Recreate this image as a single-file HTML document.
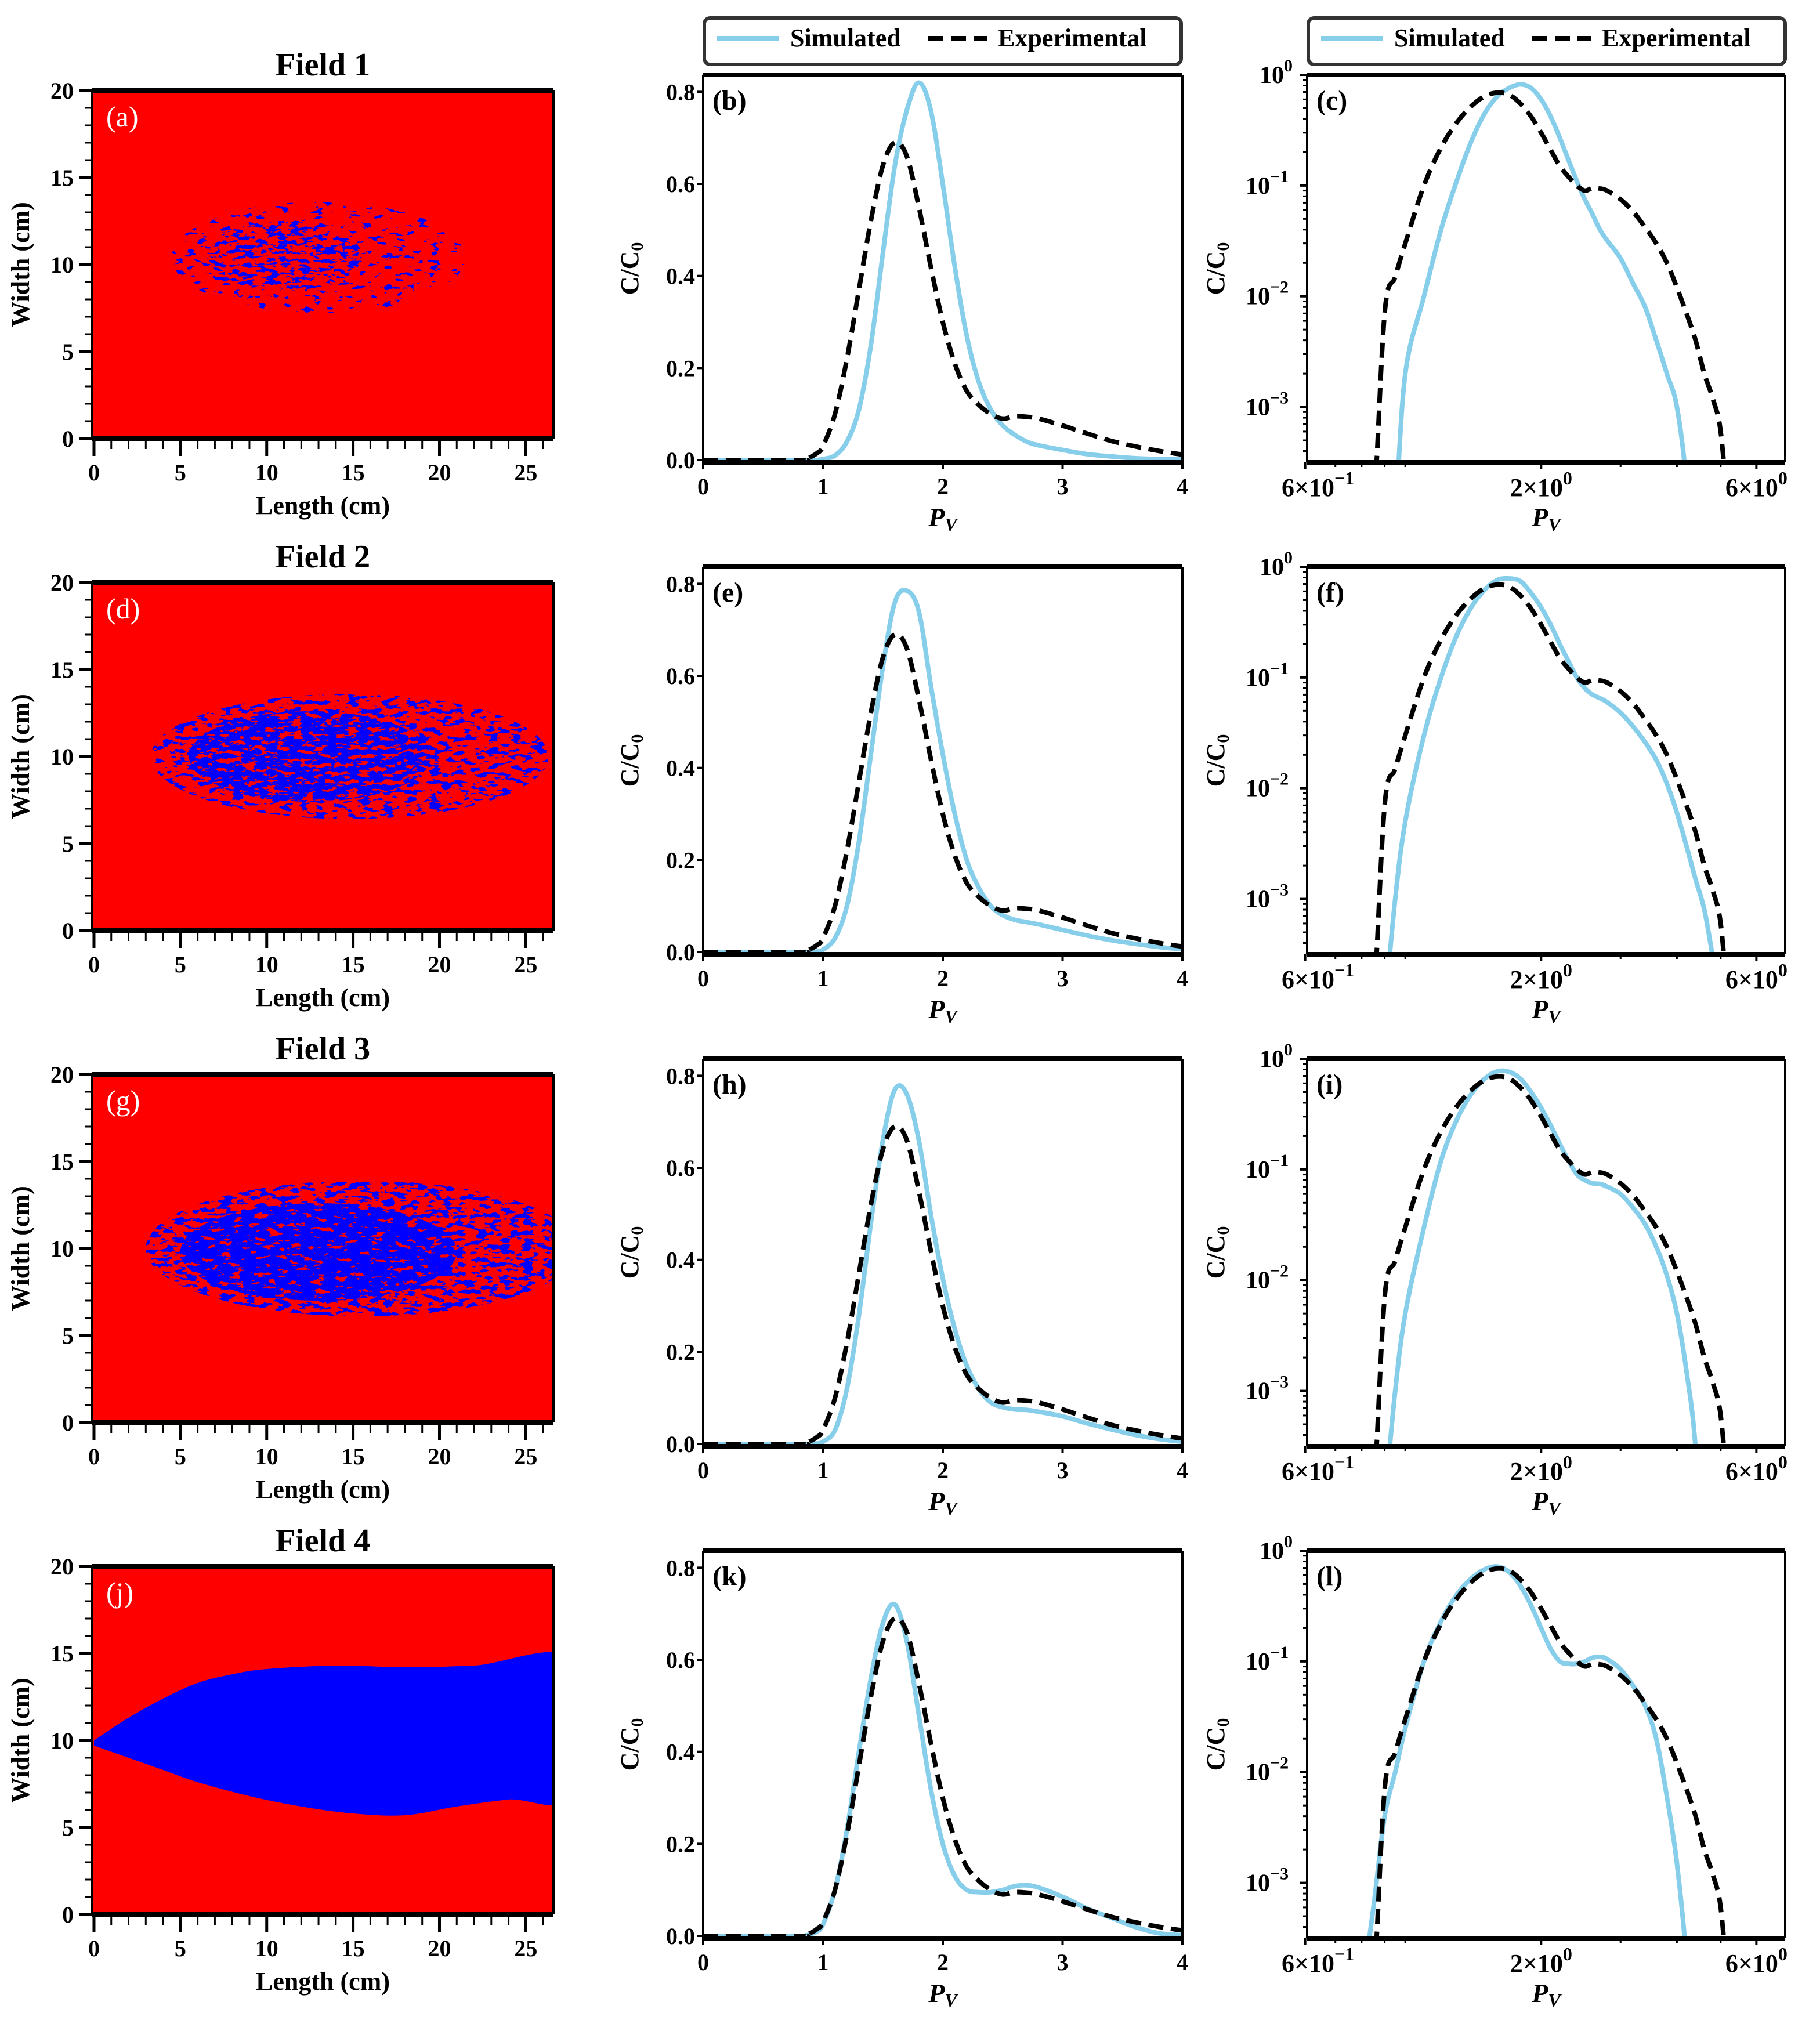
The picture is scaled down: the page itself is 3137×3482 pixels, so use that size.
<!DOCTYPE html>
<html><head><meta charset="utf-8"><style>
html,body{margin:0;padding:0;background:#fff;}
svg{display:block;}
text{font-family:"Liberation Serif",serif;}
</style></head><body>
<svg id="fig" xmlns="http://www.w3.org/2000/svg" width="3137" height="3482" viewBox="0 0 3137 3482">
<defs id="defs"></defs>
<rect width="3137" height="3482" fill="#fff"/>
<g id="root"></g>
</svg>
<script>
// ---------- DATA ----------
const pvGrid = [0,0.8,0.85,0.9,0.95,1.0,1.1,1.2,1.3,1.4,1.5,1.6,1.7,1.8,1.9,2.0,2.1,2.2,2.3,2.4,2.5,2.6,2.7,2.8,3.0,3.2,3.4,3.6,3.8,4.0,4.2,4.4,4.6,4.8,5.0,5.2];
const expVals = [0,0,0.0001,0.007,0.015,0.03,0.1,0.22,0.37,0.52,0.64,0.69,0.66,0.55,0.42,0.30,0.21,0.15,0.12,0.10,0.09,0.095,0.094,0.09,0.075,0.058,0.042,0.03,0.02,0.012,0.007,0.004,0.002,0.0012,0.0006,0.0001];
const sim1Vals = [0,0,0,0,0.0001,0.002,0.01,0.04,0.11,0.25,0.45,0.64,0.76,0.82,0.76,0.60,0.42,0.27,0.17,0.11,0.075,0.055,0.04,0.032,0.022,0.013,0.008,0.004,0.002,0.001,0.0002,0,0,0,0,0];
const sim2Vals = [0,0,0,0.0001,0.001,0.005,0.03,0.1,0.24,0.43,0.62,0.76,0.785,0.74,0.58,0.43,0.30,0.20,0.14,0.10,0.08,0.07,0.065,0.06,0.048,0.036,0.026,0.018,0.011,0.006,0.003,0.0015,0.0008,0.0003,0.0001,0];
const sim3Vals = [0,0,0,0.0001,0.001,0.005,0.03,0.12,0.28,0.48,0.66,0.77,0.76,0.66,0.50,0.36,0.25,0.17,0.12,0.09,0.08,0.075,0.074,0.07,0.06,0.045,0.032,0.02,0.011,0.005,0.0015,0.0003,0,0,0,0];
const sim4Vals = [0,0.0001,0.0006,0.004,0.01,0.025,0.1,0.23,0.40,0.56,0.68,0.72,0.64,0.48,0.32,0.20,0.13,0.10,0.095,0.095,0.10,0.108,0.11,0.105,0.085,0.06,0.04,0.02,0.006,0.0015,0.0002,0,0,0,0,0];
const simSeries = [sim1Vals, sim2Vals, sim3Vals, sim4Vals];
const fieldTitles = ["Field 1","Field 2","Field 3","Field 4"];
const mapLetters = ["(a)","(d)","(g)","(j)"];
const linLetters = ["(b)","(e)","(h)","(k)"];
const logLetters = ["(c)","(f)","(i)","(l)"];
const mapXTicks = [0,5,10,15,20,25];
const mapYTicks = [0,5,10,15,20];
const linXTicks = [0,1,2,3,4];
const linYTicks = [0.0,0.2,0.4,0.6,0.8];
const logYExp = [0,-1,-2,-3];
const logXMajor = [0.6,2,6];
const logXMajorLbl = [["6","−1"],["2","0"],["6","0"]];
const logXMinor = [0.7,0.8,0.9,1,3,4,5];
// plume shapes (data units cm): [cx, cy, rx, ry] outer halo & dense core
const plumeOuter = [[13,10.4,8.5,3.2],[14.8,10,11.5,3.6],[15.5,10,12.5,3.9]];
const plumeCore  = [[11,10.5,4.5,2.0],[12.5,10,7,2.6],[13,9.8,8,2.8]];
const plumeThresh = [[0.64,0.55],[0.56,0.45],[0.53,0.40]];
const field4Upper = [[0,10],[2,11.3],[4,12.4],[6,13.3],[8,13.8],[10,14.1],[14,14.3],[18,14.2],[22,14.3],[28,14.6]];
const field4Lower = [[28,6.9],[24,6.6],[21,6.2],[18,5.7],[15,5.8],[12,6.2],[9,6.8],[6,7.6],[4,8.3],[2,9.0],[0,9.7]];

// ---------- LAYOUT ----------
const NS="http://www.w3.org/2000/svg";
const root=document.getElementById('root');
const defs=document.getElementById('defs');
const PITCH=848;
const MAP={x:159,w:795,y:156,h:600,x0:-0.1,x1:26.6,y0:0,y1:20};
const LIN={x:1212,w:826,y:129,h:668,x0:0,x1:4,y0:-0.005,y1:0.837};
const LOG={x:2253,w:824,y:129,h:668,lx0:Math.log10(0.606),lx1:Math.log10(6.95),ly0:-3.5,ly1:0};
const SKY="#87CEEB";
function el(tag,attrs,parent){const e=document.createElementNS(NS,tag);for(const k in attrs)e.setAttribute(k,attrs[k]);(parent||root).appendChild(e);return e;}
function txt(s,attrs,parent){const t=el('text',attrs,parent);t.textContent=s;return t;}
function smoothPath(pts){
  if(!pts.length)return '';
  let d='M'+pts[0][0].toFixed(1)+','+pts[0][1].toFixed(1);
  for(let i=0;i<pts.length-1;i++){
    const p0=pts[Math.max(0,i-1)],p1=pts[i],p2=pts[i+1],p3=pts[Math.min(pts.length-1,i+2)];
    const c1=[p1[0]+(p2[0]-p0[0])/6,p1[1]+(p2[1]-p0[1])/6];
    const c2=[p2[0]-(p3[0]-p1[0])/6,p2[1]-(p3[1]-p1[1])/6];
    d+='C'+c1[0].toFixed(1)+','+c1[1].toFixed(1)+' '+c2[0].toFixed(1)+','+c2[1].toFixed(1)+' '+p2[0].toFixed(1)+','+p2[1].toFixed(1);
  }
  return d;
}
// noise filters
[0,1,2].forEach(i=>{plumeThresh[i].forEach((t,j)=>{
  const f=el('filter',{id:'nz'+i+'_'+j,x:MAP.x,y:0,width:MAP.w,height:3482,filterUnits:'userSpaceOnUse'},defs);
  el('feTurbulence',{type:'fractalNoise',baseFrequency:'0.05 0.13',numOctaves:'3',seed:String(3+i*7+j),result:'n'},f);
  el('feColorMatrix',{type:'matrix',values:'0 0 0 0 0  0 0 0 0 0  0 0 0 0 1  40 0 0 0 '+(-40*t)},f);
});});

for(let r=0;r<4;r++){
  const dy=r*PITCH;
  // ===== HEATMAP =====
  const g=el('g',{});
  const mx=v=>MAP.x+(v-MAP.x0)/(MAP.x1-MAP.x0)*MAP.w;
  const my=v=>MAP.y+dy+MAP.h-(v-MAP.y0)/(MAP.y1-MAP.y0)*MAP.h;
  const t=txt(fieldTitles[r],{x:MAP.x+MAP.w/2,y:130+dy,'text-anchor':'middle','font-size':56,'font-weight':'bold'},g);
  
  const cp=el('clipPath',{id:'mc'+r},defs);
  el('rect',{x:MAP.x,y:MAP.y+dy,width:MAP.w,height:MAP.h},cp);
  const bg=el('rect',{x:MAP.x,y:MAP.y+dy,width:MAP.w,height:MAP.h,fill:'#ff0000'},g);
  
  const pg=el('g',{'clip-path':'url(#mc'+r+')'},g);
  
  if(r<3){
    [plumeOuter[r],plumeCore[r]].forEach((s,j)=>{
      const ec=el('clipPath',{id:'ec'+r+'_'+j},defs);
      el('ellipse',{cx:mx(s[0]),cy:my(s[1]),rx:s[2]/(MAP.x1-MAP.x0)*MAP.w,ry:s[3]/20*MAP.h},ec);
      const gg=el('g',{'clip-path':'url(#ec'+r+'_'+j+')'},pg);
      el('rect',{x:MAP.x,y:MAP.y+dy,width:MAP.w,height:MAP.h,fill:'#00f',filter:'url(#nz'+r+'_'+j+')'},gg);
    });
  } else {
    const pts=field4Upper.concat(field4Lower).map(p=>[mx(p[0]),my(p[1])]);
    el('path',{d:smoothPath(pts)+'Z',fill:'#0000ff'},pg);
  }
  const lt=txt(mapLetters[r],{x:MAP.x+24,y:MAP.y+dy+62,'font-size':50,fill:'#fff'},g);
  
  // frame
  el('line',{x1:MAP.x,x2:MAP.x+MAP.w,y1:MAP.y+dy,y2:MAP.y+dy,stroke:'#000','stroke-width':8},g);
  el('line',{x1:MAP.x,x2:MAP.x+MAP.w,y1:MAP.y+dy+MAP.h,y2:MAP.y+dy+MAP.h,stroke:'#000','stroke-width':8},g);
  el('line',{x1:MAP.x,x2:MAP.x,y1:MAP.y+dy,y2:MAP.y+dy+MAP.h,stroke:'#000','stroke-width':4},g);
  el('line',{x1:MAP.x+MAP.w,x2:MAP.x+MAP.w,y1:MAP.y+dy,y2:MAP.y+dy+MAP.h,stroke:'#000','stroke-width':4},g);
  for(let v=0;v<=26;v++){const big=v%5===0;el('line',{x1:mx(v),x2:mx(v),y1:MAP.y+dy+MAP.h,y2:MAP.y+dy+MAP.h+(big?30:18),stroke:'#000','stroke-width':big?5:3},g);}
  for(let v=0;v<=20;v++){const big=v%5===0;el('line',{x1:MAP.x,x2:MAP.x-(big?22:12),y1:my(v),y2:my(v),stroke:'#000','stroke-width':big?5:3},g);}
  mapXTicks.forEach(v=>{const k=txt(String(v),{x:mx(v),y:MAP.y+dy+MAP.h+72,'text-anchor':'middle','font-size':40,'font-weight':'bold'},g);});
  mapYTicks.forEach(v=>{const k=txt(String(v),{x:MAP.x-32,y:my(v)+14,'text-anchor':'end','font-size':40,'font-weight':'bold'},g);});
  const xl=txt('Length (cm)',{x:MAP.x+MAP.w/2,y:MAP.y+dy+MAP.h+130,'text-anchor':'middle','font-size':44,'font-weight':'bold'},g);
  
  const yl=txt('Width (cm)',{x:0,y:0,'text-anchor':'middle','font-size':44,'font-weight':'bold',transform:'translate(50,'+(MAP.y+dy+MAP.h/2)+') rotate(-90)'},g);
  

  // ===== LINEAR =====
  const gl=el('g',{});
  const lx=v=>LIN.x+(v-LIN.x0)/(LIN.x1-LIN.x0)*LIN.w;
  const ly=v=>LIN.y+dy+LIN.h-(v-LIN.y0)/(LIN.y1-LIN.y0)*LIN.h;
  const lc=el('clipPath',{id:'lc'+r},defs);
  el('rect',{x:LIN.x,y:LIN.y+dy-10,width:LIN.w,height:LIN.h+10},lc);
  const lg=el('g',{'clip-path':'url(#lc'+r+')'},gl);
  const sp=el('path',{d:smoothPath(pvGrid.map((x,i)=>[lx(x),ly(simSeries[r][i])])),fill:'none',stroke:SKY,'stroke-width':8,'stroke-linejoin':'round'},lg);
  
  const ep=el('path',{d:smoothPath(pvGrid.map((x,i)=>[lx(x),ly(expVals[i])])),fill:'none',stroke:'#000','stroke-width':8,'stroke-dasharray':'26 13'},lg);
  
  el('line',{x1:LIN.x,x2:LIN.x+LIN.w,y1:LIN.y+dy,y2:LIN.y+dy,stroke:'#000','stroke-width':8},gl);
  el('line',{x1:LIN.x,x2:LIN.x+LIN.w,y1:LIN.y+dy+LIN.h,y2:LIN.y+dy+LIN.h,stroke:'#000','stroke-width':8},gl);
  el('line',{x1:LIN.x,x2:LIN.x,y1:LIN.y+dy,y2:LIN.y+dy+LIN.h,stroke:'#000','stroke-width':4},gl);
  el('line',{x1:LIN.x+LIN.w,x2:LIN.x+LIN.w,y1:LIN.y+dy,y2:LIN.y+dy+LIN.h,stroke:'#000','stroke-width':4},gl);
  linXTicks.forEach(v=>{el('line',{x1:lx(v),x2:lx(v),y1:LIN.y+dy+LIN.h,y2:LIN.y+dy+LIN.h+12,stroke:'#000','stroke-width':4},gl);
    const k=txt(String(v),{x:lx(v),y:LIN.y+dy+LIN.h+55,'text-anchor':'middle','font-size':40,'font-weight':'bold'},gl);});
  linYTicks.forEach(v=>{el('line',{x1:LIN.x,x2:LIN.x-10,y1:ly(v),y2:ly(v),stroke:'#000','stroke-width':4},gl);
    const k=txt(v.toFixed(1),{x:LIN.x-14,y:ly(v)+14,'text-anchor':'end','font-size':40,'font-weight':'bold'},gl);});
  const bl=txt(linLetters[r],{x:LIN.x+16,y:LIN.y+dy+60,'font-size':48,'font-weight':'bold'},gl);
  
  const px=txt('',{x:LIN.x+LIN.w/2,y:LIN.y+dy+LIN.h+110,'text-anchor':'middle','font-size':46,'font-weight':'bold','font-style':'italic'},gl);
  px.textContent='P';const s1=el('tspan',{'font-size':32,dy:8},px);s1.textContent='V';
  
  const py=txt('',{'text-anchor':'middle','font-size':44,'font-weight':'bold',transform:'translate(1100,'+(LIN.y+dy+LIN.h/2)+') rotate(-90)'},gl);
  py.textContent='C/C';const s2=el('tspan',{'font-size':30,dy:8},py);s2.textContent='0';
  

  // ===== LOG =====
  const gg=el('g',{});
  const gx=v=>LOG.x+(Math.log10(v)-LOG.lx0)/(LOG.lx1-LOG.lx0)*LOG.w;
  const gy=v=>LOG.y+dy+LOG.h-(Math.log10(Math.max(v,1e-5))-LOG.ly0)/(LOG.ly1-LOG.ly0)*LOG.h;
  const gc=el('clipPath',{id:'gc'+r},defs);
  el('rect',{x:LOG.x,y:LOG.y+dy-10,width:LOG.w,height:LOG.h+10},gc);
  const cg=el('g',{'clip-path':'url(#gc'+r+')'},gg);
  function logPts(vals){const out=[];pvGrid.forEach((x,i)=>{if(x>0.5)out.push([gx(x),gy(vals[i])]);});return out;}
  const sp2=el('path',{d:smoothPath(logPts(simSeries[r])),fill:'none',stroke:SKY,'stroke-width':8,'stroke-linejoin':'round'},cg);
  
  const ep2=el('path',{d:smoothPath(logPts(expVals)),fill:'none',stroke:'#000','stroke-width':8,'stroke-dasharray':'26 13'},cg);
  
  el('line',{x1:LOG.x,x2:LOG.x+LOG.w,y1:LOG.y+dy,y2:LOG.y+dy,stroke:'#000','stroke-width':8},gg);
  el('line',{x1:LOG.x,x2:LOG.x+LOG.w,y1:LOG.y+dy+LOG.h,y2:LOG.y+dy+LOG.h,stroke:'#000','stroke-width':8},gg);
  el('line',{x1:LOG.x,x2:LOG.x,y1:LOG.y+dy,y2:LOG.y+dy+LOG.h,stroke:'#000','stroke-width':4},gg);
  el('line',{x1:LOG.x+LOG.w,x2:LOG.x+LOG.w,y1:LOG.y+dy,y2:LOG.y+dy+LOG.h,stroke:'#000','stroke-width':4},gg);
  logXMajor.forEach((v,i)=>{el('line',{x1:gx(v),x2:gx(v),y1:LOG.y+dy+LOG.h,y2:LOG.y+dy+LOG.h+12,stroke:'#000','stroke-width':4},gg);
    const k=txt(logXMajorLbl[i][0]+'×10',{x:gx(v)+(i===0?22:0),y:LOG.y+dy+LOG.h+58,'text-anchor':'middle','font-size':44,'font-weight':'bold'},gg);
    const sup=el('tspan',{'font-size':32,dy:-20},k);sup.textContent=logXMajorLbl[i][1];
    });
  logXMinor.forEach(v=>{el('line',{x1:gx(v),x2:gx(v),y1:LOG.y+dy+LOG.h,y2:LOG.y+dy+LOG.h+8,stroke:'#000','stroke-width':3},gg);});
  logYExp.forEach(e=>{const y=gy(Math.pow(10,e));el('line',{x1:LOG.x,x2:LOG.x-12,y1:y,y2:y,stroke:'#000','stroke-width':4},gg);
    const k=txt('10',{x:LOG.x-50,y:y+14,'text-anchor':'end','font-size':42,'font-weight':'bold'},gg);
    const sup=el('tspan',{'font-size':30,dy:-20},k);sup.textContent=(e===0?'0':'−'+(-e));
    k.setAttribute('text-anchor','start');k.setAttribute('x',LOG.x-(e===0?82:106));
    
    for(let m=2;m<=9;m++){const mv=m*Math.pow(10,e-1);if(Math.log10(mv)<LOG.ly0)continue;const yy=gy(mv);el('line',{x1:LOG.x,x2:LOG.x-7,y1:yy,y2:yy,stroke:'#000','stroke-width':3},gg);}
  });
  const cl=txt(logLetters[r],{x:LOG.x+16,y:LOG.y+dy+60,'font-size':48,'font-weight':'bold'},gg);
  
  const px2=txt('P',{x:LOG.x+LOG.w/2,y:LOG.y+dy+LOG.h+110,'text-anchor':'middle','font-size':46,'font-weight':'bold','font-style':'italic'},gg);
  const s3=el('tspan',{'font-size':32,dy:8},px2);s3.textContent='V';
  
  const py2=txt('C/C',{'text-anchor':'middle','font-size':44,'font-weight':'bold',transform:'translate(2110,'+(LOG.y+dy+LOG.h/2)+') rotate(-90)'},gg);
  const s4=el('tspan',{'font-size':30,dy:8},py2);s4.textContent='0';
  
}

// ===== LEGENDS =====
[LIN.x,LOG.x].forEach((x0,i)=>{
  const lg=el('g',{});
  
  
  el('rect',{x:x0+2,y:31,width:822,height:80,rx:10,fill:'#fff',stroke:'#333','stroke-width':6},lg);
  el('line',{x1:x0+24,x2:x0+131,y1:66,y2:66,stroke:SKY,'stroke-width':8},lg);
  const a=txt('Simulated',{x:x0+150,y:80,'font-size':44,'font-weight':'bold'},lg);
  
  el('line',{x1:x0+388,x2:x0+490,y1:66,y2:66,stroke:'#000','stroke-width':8,'stroke-dasharray':'26 13'},lg);
  const b=txt('Experimental',{x:x0+508,y:80,'font-size':44,'font-weight':'bold'},lg);
  
});
</script>
</body></html>
